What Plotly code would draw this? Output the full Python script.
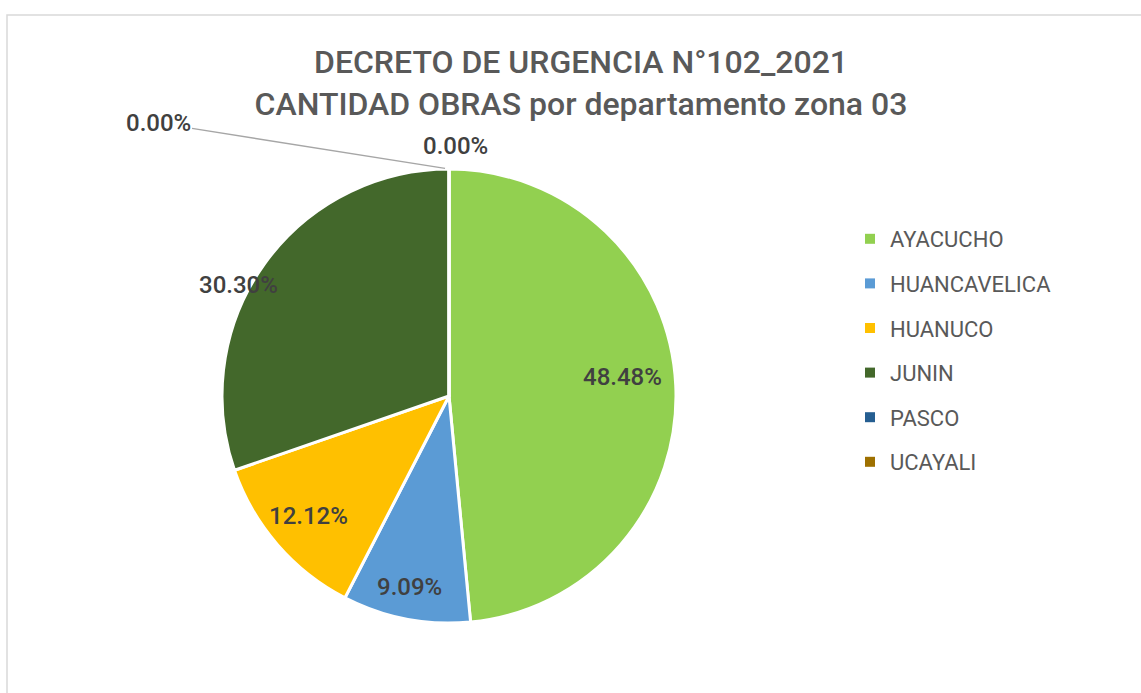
import math
import plotly.graph_objects as go

labels = ["AYACUCHO", "HUANCAVELICA", "HUANUCO", "JUNIN", "PASCO", "UCAYALI"]
values = [16, 3, 4, 10, 0, 0]
colors = ["#92D050", "#5B9BD5", "#FFC000", "#43682B", "#255E91", "#9E7000"]
title_lines = ["DECRETO DE URGENCIA N°102_2021", "CANTIDAD OBRAS por departamento zona 03"]

# label placement ("best fit" look): radial fraction of radius, angular fraction within slice
label_radius = [0.77, 0.86, 0.815, 1.05]
label_angle_frac = [0.48, 0.52, 0.51, 0.43]

FONT = "Roboto, sans-serif"
W, H = 1141, 693
cx, cy, r = 449, 396, 227
dom_x = [(cx - r) / W, (cx + r) / W]
dom_y = [1 - (cy + r) / H, 1 - (cy - r) / H]

total = sum(values)

fig = go.Figure()
fig.add_trace(go.Pie(
    labels=labels, values=values, sort=False, direction="clockwise", rotation=0,
    marker=dict(colors=colors, line=dict(color="white", width=3)),
    textinfo="none",
    domain=dict(x=dom_x, y=dom_y), showlegend=False, hoverinfo="label+value+percent",
))

# legend via dummy traces for item spacing
for lab, col in zip(labels, colors):
    fig.add_trace(go.Scatter(x=[None], y=[None], mode="markers", name=lab,
                             marker=dict(symbol="square", size=10, color=col),
                             legendgroup=lab, showlegend=True))

label_font = dict(family=FONT, size=24, color="#404040", weight=500)

# percentage labels for non-zero slices, placed from the slice angles
cum = 0.0
k = 0
for v in values:
    if v > 0:
        ang = (cum + v * label_angle_frac[k]) / total * 2 * math.pi
        f = label_radius[k]
        k += 1
        px = cx + f * r * math.sin(ang)
        py = cy - f * r * math.cos(ang)
        fig.add_annotation(x=px / W, y=1 - py / H, xref="paper", yref="paper",
                           text=f"{v / total:.2%}", showarrow=False,
                           xanchor="center", yanchor="middle", font=label_font)
    cum += v

# zero-value labels
zero_idx = [i for i, v in enumerate(values) if v == 0]
top_y = dom_y[1]
fig.add_annotation(x=cx / W, y=top_y, xref="paper", yref="paper",
                   text=f"{values[zero_idx[0]] / total:.2%}", showarrow=False,
                   xanchor="center", yanchor="bottom", yshift=7, xshift=6,
                   font=label_font)
fig.add_annotation(x=cx / W, y=top_y, xref="paper", yref="paper",
                   text=f"{values[zero_idx[1]] / total:.2%}", showarrow=True,
                   arrowhead=0, arrowwidth=1.5, arrowcolor="#A6A6A6",
                   ax=-291, ay=-46, xanchor="center", yanchor="middle",
                   standoff=4, font=label_font)

fig.add_shape(type="rect", xref="paper", yref="paper",
              x0=7 / W, x1=1.01, y0=-0.01, y1=1 - 15 / H,
              line=dict(color="#D9D9D9", width=1.5), fillcolor="rgba(0,0,0,0)")

fig.update_layout(
    width=W, height=H,
    margin=dict(l=0, r=0, t=0, b=0),
    paper_bgcolor="white", plot_bgcolor="white",
    title=dict(text="<br>".join(title_lines), x=581 / W, xanchor="center",
               y=1 - 73 / H, yanchor="top",
               font=dict(family=FONT, size=32, color="#595959", weight=500)),
    xaxis=dict(visible=False), yaxis=dict(visible=False),
    legend=dict(x=850 / W, y=1 - 218 / H, xanchor="left", yanchor="top",
                font=dict(family=FONT, size=22, color="#595959", weight=400),
                tracegroupgap=13, itemclick=False, bgcolor="rgba(0,0,0,0)"),
)

fig.write_html("out.html", config={"displayModeBar": False},
               post_script="document.body.style.margin='0';")
